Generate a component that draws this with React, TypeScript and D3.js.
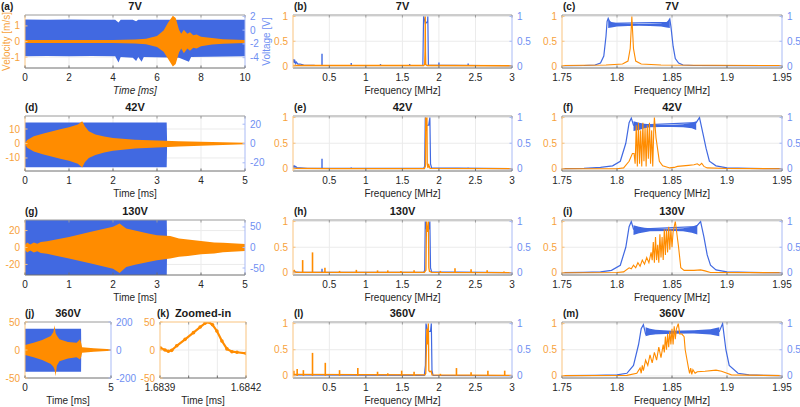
import React from 'react'
import * as d3 from 'd3'

type Env = [number, number, number] // x, low, high
type Pt = [number, number]

const ORANGE = '#FF8C00'
const BLUE = '#4169E1'
const ORANGE_TXT = '#F7A23B'
const BLUE_TXT = '#6F8FF2'
const ORANGE_AX = '#F9C37F'
const BLUE_AX = '#A9BAF5'
const GRID = '#EBEBEB'
const FONT = 'Liberation Sans, Arial, Helvetica, sans-serif'

// ---- ticks ----
const ticksTime10 = [0, 2, 4, 6, 8, 10]
const ticksTime5 = [0, 1, 2, 3, 4, 5]
const ticksTimeJ = [0, 5]
const ticksZoom = [1.6839, 1.684, 1.6841, 1.6842]
const labelsZoom = ['1.6839', '', '', '1.6842']
const ticksFreqWide = [0.5, 1, 1.5, 2, 2.5, 3]
const ticksFreqNarrow = [1.75, 1.8, 1.85, 1.9, 1.95]
const ticksNorm = [0, 0.5, 1]

// ---- (a) 7V time signal ----
const aVel: Env[] = [
  [0, -0.1, 0.1], [4, -0.1, 0.1], [5, -0.13, 0.13], [5.5, -0.18, 0.18], [6.0, -0.35, 0.35],
  [6.3, -0.65, 0.7], [6.5, -1.1, 1.2], [6.72, -1.6, 1.65], [6.85, -1.45, 1.5], [7.0, -0.7, 0.75],
  [7.1, -0.45, 0.5], [7.22, -0.75, 0.75], [7.38, -0.45, 0.5], [7.5, -0.6, 0.6], [7.65, -0.4, 0.4],
  [7.8, -0.45, 0.45], [8.0, -0.3, 0.3], [8.5, -0.2, 0.22], [9, -0.14, 0.15], [10, -0.1, 0.1],
]
const aVolt: Env[] = [
  [0, -3.8, 1.55], [1, -3.75, 1.5], [2, -3.8, 1.55], [3, -3.75, 1.5], [4.1, -3.8, 1.5],
  [4.25, -4.7, 1.1], [4.35, -3.9, 1.5], [4.9, -4.0, 1.5], [5.05, -4.5, 1.3], [5.15, -3.9, 1.5],
  [5.3, -4.6, 1.5], [5.4, -3.9, 1.5], [7.0, -4.0, 1.5], [7.45, -4.6, 1.5], [7.55, -3.9, 1.5],
  [10, -3.8, 1.5],
]

// ---- (d) 42V ----
const dVel: Env[] = [
  [0, -0.3, 0.3], [0.05, -3, 2.5], [0.2, -5.5, 5], [0.4, -7.5, 6.8], [0.6, -9, 8.3],
  [0.8, -10.5, 9.8], [1.0, -12, 11.3], [1.2, -14, 13.2], [1.3, -16.5, 15.3], [1.36, -13, 12],
  [1.45, -10, 8.5], [1.6, -8, 6.3], [1.8, -6.3, 4.8], [2.0, -5, 3.8], [2.5, -3.5, 2.6],
  [3.0, -2.7, 2], [3.5, -2, 1.6], [4, -1.5, 1.2], [4.5, -1, 0.8], [5, -0.6, 0.5],
]
const dVolt: Env[] = [[0, -24.5, 21.8], [3.22, -24.5, 21.8], [3.23, -0.3, 0.3], [5, -0.3, 0.3]]

// ---- (g) 130V ----
const gVel: Env[] = [
  [0, -3, 3], [0.05, -6, 6], [0.12, -3.5, 3.5], [0.2, -6, 6], [0.28, -4.5, 4.5], [0.36, -6.5, 6.5],
  [0.5, -7.5, 7.5], [1.0, -13, 12.5], [1.5, -19, 18.5], [2.0, -25, 24.5], [2.15, -30, 28.5],
  [2.3, -23, 22.5], [2.5, -20.5, 20], [2.8, -17, 16.5], [3.0, -15, 14.5], [3.3, -13, 13.5],
  [3.5, -11, 10.5], [3.7, -10, 9.5], [4.0, -8, 7.8], [4.3, -7, 6], [4.5, -5.5, 5.5], [5, -4, 4],
]
const gVolt: Env[] = [[0, -80, 80], [3.22, -80, 80], [3.23, -0.5, 0.5], [5, -0.5, 0.5]]

// ---- (j) 360V ----
const jVel: Env[] = [
  [0, -9, 9], [0.5, -13, 13], [1, -18, 18], [1.5, -25, 25], [1.65, -30, 32], [1.72, -35, 44],
  [1.78, -47, 30], [1.85, -28, 26], [2, -20, 19], [2.5, -15, 14.5], [3, -13, 13], [3.2, -17, 19],
  [3.27, -12, 12], [3.32, -5, 5], [4, -3, 3], [5, -1.2, 1.2],
]
const jVolt: Env[] = [[0, -155, 152], [3.26, -155, 152], [3.27, -1, 1], [5, -1, 1]]

// ---- (k) zoomed-in ----
const kVel: Pt[] = [
  [1.683902, 3.5], [1.6839175, 0], [1.6839292, -2.3], [1.6839409, -0.6], [1.6839584, 7.5],
  [1.6839875, 19], [1.6840167, 31], [1.6840401, 41], [1.6840576, 48], [1.6840693, 50],
  [1.6840833, 45], [1.6840984, 34], [1.684116, 16], [1.6841335, 2], [1.684151, -3],
  [1.6841685, -4], [1.6842, -6],
]

// ---- (b) 7V spectrum ----
const bOrange: Pt[] = [
  [0.003, 0.01], [1.79, 0.01], [1.805, 0.03], [1.81, 0.3], [1.813, 1.0], [1.816, 0.3],
  [1.82, 0.03], [1.84, 0.01], [3, 0.005],
]
const bBlue: Pt[] = [
  [0.003, 0.13], [0.01, 0.1], [0.015, 0.14], [0.02, 0.06], [0.03, 0.1], [0.04, 0.05],
  [0.05, 0.08], [0.07, 0.04], [0.1, 0.04], [0.15, 0.02], [0.3, 0.012], [1.78, 0.01],
  [1.79, 1.0], [1.8, 0.95], [1.815, 0.85], [1.83, 0.88], [1.845, 0.9], [1.848, 1.0],
  [1.856, 0.02], [3, 0.005],
]
const bBlueSpikes: Pt[] = [[0.4, 0.25], [0.8, 0.06], [1.2, 0.04], [1.6, 0.04], [2.0, 0.07], [2.4, 0.05], [2.8, 0.02]]

// ---- (e) 42V spectrum ----
const eOrange: Pt[] = [
  [0.003, 0.01], [0.5, 0.005], [1.8, 0.006], [1.815, 0.05], [1.82, 1.0], [1.826, 0.75],
  [1.832, 0.95], [1.836, 1.0], [1.84, 0.1], [1.85, 0.02], [1.858, 0.1], [1.866, 0.05],
  [1.88, 0.01], [3, 0.005],
]
const eBlue: Pt[] = [
  [0.003, 0.07], [0.01, 0.04], [0.02, 0.06], [0.03, 0.03], [0.04, 0.05], [0.06, 0.02],
  [0.1, 0.02], [0.2, 0.01], [1.79, 0.01], [1.805, 0.05], [1.813, 1.0], [1.83, 0.85],
  [1.86, 0.85], [1.876, 1.0], [1.885, 0.1], [1.9, 0.02], [3, 0.005],
]
const eBlueSpikes: Pt[] = [[0.4, 0.2], [0.8, 0.03], [2.4, 0.025]]

// ---- (h) 130V spectrum ----
const hOrange: Pt[] = [
  [0.003, 0.03], [0.02, 0.05], [0.04, 0.01], [1.8, 0.01], [1.822, 0.05], [1.83, 1.0],
  [1.84, 0.8], [1.852, 0.9], [1.856, 1.0], [1.862, 0.1], [1.87, 0.03], [1.9, 0.01], [3, 0.005],
]
const hOrangeSpikes: Pt[] = [
  [0.135, 0.25], [0.27, 0.4], [0.44, 0.1], [0.64, 0.04], [0.87, 0.06], [1.16, 0.05], [1.3, 0.05],
  [1.48, 0.04], [1.66, 0.05], [2.02, 0.04], [2.22, 0.09], [2.44, 0.07], [2.66, 0.05], [2.89, 0.03],
]
const hBlue: Pt[] = [
  [0.003, 0.02], [0.1, 0.01], [1.79, 0.01], [1.805, 0.05], [1.813, 1.0], [1.83, 0.85],
  [1.86, 0.85], [1.876, 1.0], [1.885, 0.1], [1.9, 0.02], [3, 0.005],
]
const hBlueSpikes: Pt[] = [[0.4, 0.08]]

// ---- (l) 360V spectrum ----
const lOrange: Pt[] = [
  [0.003, 0.03], [1.81, 0.02], [1.82, 0.05], [1.835, 0.9], [1.845, 0.6], [1.855, 1.0],
  [1.862, 0.1], [1.875, 0.08], [1.895, 0.09], [1.905, 0.02], [3, 0.01],
]
const lOrangeSpikes: Pt[] = [
  [0.015, 0.1], [0.06, 0.13], [0.145, 0.11], [0.27, 0.44], [0.445, 0.25], [0.64, 0.11],
  [0.89, 0.15], [1.16, 0.08], [1.3, 0.05], [1.49, 0.1], [1.66, 0.08], [2.02, 0.04],
  [2.24, 0.15], [2.44, 0.07], [2.67, 0.1], [2.9, 0.1],
]
const lBlue: Pt[] = [
  [0.003, 0.02], [1.8, 0.01], [1.815, 0.2], [1.823, 1.0], [1.845, 0.85], [1.885, 0.85],
  [1.896, 1.0], [1.905, 0.1], [1.92, 0.01], [3, 0.005],
]

// ---- (c) 7V zoomed spectrum ----
const cBlue: Pt[] = [
  [1.75, 0.005], [1.77, 0.01], [1.78, 0.02], [1.785, 0.06], [1.788, 0.2], [1.79, 0.6],
  [1.791, 0.9], [1.792, 0.96], [1.794, 0.86], [1.846, 0.88], [1.848, 0.95], [1.849, 0.8],
  [1.851, 0.4], [1.853, 0.15], [1.856, 0.06], [1.86, 0.02], [1.87, 0.01], [1.95, 0.005],
]
const cBand: Env[] = [
  [1.792, 0.77, 0.93], [1.795, 0.78, 0.89], [1.8, 0.8, 0.865], [1.81, 0.81, 0.855], [1.82, 0.815, 0.85],
  [1.83, 0.81, 0.855], [1.84, 0.8, 0.865], [1.845, 0.78, 0.89], [1.848, 0.77, 0.93],
]
const cOrange: Pt[] = [
  [1.75, 0.01], [1.79, 0.02], [1.805, 0.04], [1.81, 0.1], [1.812, 0.35], [1.8135, 1.0],
  [1.815, 0.35], [1.817, 0.1], [1.822, 0.04], [1.84, 0.02], [1.95, 0.01],
]

// ---- (f) 42V zoomed spectrum ----
const fBlue: Pt[] = [
  [1.75, 0.005], [1.77, 0.01], [1.785, 0.03], [1.796, 0.06], [1.803, 0.15], [1.808, 0.5],
  [1.811, 0.9], [1.813, 0.99], [1.815, 0.85], [1.872, 0.9], [1.875, 1.0], [1.878, 0.7],
  [1.881, 0.4], [1.884, 0.15], [1.89, 0.06], [1.9, 0.02], [1.92, 0.01], [1.95, 0.005],
]
const fBand: Env[] = [
  [1.815, 0.74, 0.93], [1.82, 0.76, 0.9], [1.825, 0.79, 0.88], [1.83, 0.81, 0.87], [1.84, 0.815, 0.86],
  [1.85, 0.815, 0.86], [1.86, 0.81, 0.87], [1.868, 0.79, 0.9], [1.872, 0.76, 0.93],
]
const fOrange: Pt[] = [
  [1.75, 0.005], [1.8, 0.005], [1.806, 0.02], [1.811, 0.15], [1.814, 0.3], [1.8155, 0.3],
  [1.8165, 0.1], [1.8175, 0.85], [1.8185, 0.05], [1.8195, 0.9], [1.8205, 0.1], [1.8215, 0.75],
  [1.8225, 0.05], [1.8235, 0.9], [1.8245, 0.15], [1.8255, 0.8], [1.8265, 0.05], [1.8275, 0.85],
  [1.8285, 0.2], [1.8295, 0.9], [1.8305, 0.1], [1.8315, 0.75], [1.8325, 0.05], [1.8335, 0.8],
  [1.834, 1.0], [1.8355, 0.6], [1.8385, 0.15], [1.8415, 0.06], [1.848, 0.02], [1.852, 0.03],
  [1.855, 0.05], [1.86, 0.06], [1.865, 0.07], [1.87, 0.08], [1.873, 0.1], [1.875, 0.07],
  [1.877, 0.11], [1.879, 0.05], [1.882, 0.02], [1.9, 0.01], [1.95, 0.005],
]

// ---- (i) 130V zoomed spectrum ----
const iBlue: Pt[] = [
  [1.75, 0.005], [1.77, 0.01], [1.785, 0.02], [1.795, 0.05], [1.803, 0.15], [1.808, 0.5],
  [1.811, 0.9], [1.813, 1.0], [1.815, 0.85], [1.872, 0.9], [1.876, 1.0], [1.879, 0.7],
  [1.882, 0.35], [1.885, 0.15], [1.89, 0.06], [1.9, 0.02], [1.92, 0.01], [1.95, 0.005],
]
const iBand: Env[] = [
  [1.815, 0.74, 0.93], [1.82, 0.77, 0.9], [1.825, 0.79, 0.88], [1.83, 0.81, 0.87], [1.85, 0.815, 0.86],
  [1.86, 0.81, 0.87], [1.868, 0.78, 0.9], [1.873, 0.75, 0.94],
]
const iOrange: Pt[] = [
  [1.75, 0.005], [1.8, 0.008], [1.806, 0.02], [1.811, 0.1], [1.813, 0.08], [1.815, 0.15],
  [1.817, 0.1], [1.819, 0.2], [1.821, 0.13], [1.823, 0.25], [1.825, 0.17], [1.827, 0.3],
  [1.829, 0.2], [1.831, 0.4], [1.832, 0.25], [1.833, 0.6], [1.834, 0.2], [1.835, 0.7],
  [1.836, 0.25], [1.837, 0.55], [1.838, 0.2], [1.839, 0.75], [1.84, 0.3], [1.841, 0.7],
  [1.842, 0.25], [1.843, 0.85], [1.844, 0.35], [1.845, 0.85], [1.846, 0.4], [1.847, 0.9],
  [1.848, 0.45], [1.849, 0.85], [1.85, 0.5], [1.851, 0.8], [1.853, 1.0], [1.856, 0.5],
  [1.858, 0.1], [1.861, 0.05], [1.87, 0.05], [1.876, 0.06], [1.88, 0.04], [1.885, 0.01],
  [1.95, 0.005],
]

// ---- (m) 360V zoomed spectrum ----
const mBlue: Pt[] = [
  [1.75, 0.005], [1.78, 0.01], [1.8, 0.02], [1.809, 0.05], [1.815, 0.2], [1.8196, 0.6],
  [1.822, 0.9], [1.824, 0.98], [1.826, 0.8], [1.893, 0.85], [1.896, 1.0], [1.899, 0.5],
  [1.902, 0.2], [1.91, 0.05], [1.92, 0.02], [1.934, 0.01], [1.95, 0.005],
]
const mBand: Env[] = [
  [1.826, 0.76, 0.93], [1.83, 0.78, 0.9], [1.835, 0.8, 0.88], [1.85, 0.815, 0.865],
  [1.87, 0.81, 0.87], [1.885, 0.79, 0.89], [1.893, 0.76, 0.93],
]
const mOrange: Pt[] = [
  [1.75, 0.005], [1.8, 0.008], [1.809, 0.01], [1.818, 0.05], [1.821, 0.15], [1.822, 0.05],
  [1.823, 0.2], [1.824, 0.1], [1.826, 0.3], [1.828, 0.2], [1.83, 0.4], [1.832, 0.25],
  [1.834, 0.45], [1.836, 0.3], [1.838, 0.55], [1.84, 0.35], [1.842, 0.6], [1.843, 0.45],
  [1.844, 0.75], [1.845, 0.5], [1.846, 0.8], [1.847, 0.55], [1.848, 0.85], [1.849, 0.6],
  [1.85, 0.9], [1.851, 0.6], [1.852, 0.95], [1.853, 0.7], [1.854, 0.9], [1.8557, 1.0],
  [1.857, 0.8], [1.859, 0.8], [1.861, 0.75], [1.862, 0.5], [1.865, 0.15], [1.866, 0.05],
  [1.867, 0.15], [1.868, 0.03], [1.869, 0.12], [1.871, 0.05], [1.873, 0.08], [1.88, 0.09],
  [1.89, 0.11], [1.895, 0.09], [1.9, 0.05], [1.904, 0.02], [1.95, 0.005],
]

// ---- layout ----
type Box = { l: number; r: number; t: number; b: number }
const COL1 = [25, 245]
const COL2 = [293, 512]
const COL3 = [562, 782]
const ROWS = [[15, 68], [116, 171], [220, 275], [322, 378]]
const box = (c: number[], r: number[]): Box => ({ l: c[0], r: c[1], t: r[0], b: r[1] })

type Scale = d3.ScaleLinear<number, number>
interface PanelProps {
  id: string
  box: Box
  xDomain: [number, number]
  xTicks: number[]
  xLabels?: string[]
  yLeft: [number, number]
  leftTicks: number[]
  yRight?: [number, number]
  rightTicks?: number[]
  title: string
  tag: string
  tagX?: number
  xLabel: string
  italicX?: boolean
  allOrange?: boolean
  yLabelLeft?: string
  yLabelRight?: string
  draw: (x: Scale, yl: Scale, yr: Scale) => React.ReactNode
}

const envArea = (x: Scale, y: Scale) =>
  d3.area<Env>().x(d => x(d[0])).y0(d => y(d[1])).y1(d => y(d[2]))
const ptLine = (x: Scale, y: Scale) => d3.line<Pt>().x(d => x(d[0])).y(d => y(d[1]))

function Panel(p: PanelProps) {
  const { l, r, t, b } = p.box
  const x = d3.scaleLinear().domain(p.xDomain).range([l, r])
  const yl = d3.scaleLinear().domain(p.yLeft).range([b, t])
  const yr = p.yRight ? d3.scaleLinear().domain(p.yRight).range([b, t]) : yl
  const clip = 'clip-' + p.id
  const rightAx = p.allOrange ? ORANGE_AX : BLUE_AX
  const inner = (v: number, s: Scale) => Math.abs(s(v) - s.range()[0]) > 1 && Math.abs(s(v) - s.range()[1]) > 1
  return (
    <g fontFamily={FONT}>
      <defs>
        <clipPath id={clip}><rect x={l} y={t} width={r - l} height={b - t} /></clipPath>
      </defs>
      {p.xTicks.filter(v => inner(v, x)).map(v => (
        <line key={'gx' + v} x1={x(v)} x2={x(v)} y1={t} y2={b} stroke={GRID} strokeWidth={1} />
      ))}
      {p.leftTicks.filter(v => inner(v, yl)).map(v => (
        <line key={'gy' + v} x1={l} x2={r} y1={yl(v)} y2={yl(v)} stroke={GRID} strokeWidth={1} />
      ))}
      <g clipPath={`url(#${clip})`}>{p.draw(x, yl, yr)}</g>
      {/* frame */}
      <line x1={l} x2={r} y1={t} y2={t} stroke={p.allOrange ? ORANGE_AX : '#9a9a9a'} />
      <line x1={l} x2={r} y1={b} y2={b} stroke="#6e6e6e" />
      <line x1={l} x2={l} y1={t} y2={b} stroke={ORANGE_AX} />
      <line x1={r} x2={r} y1={t} y2={b} stroke={rightAx} />
      {/* x ticks */}
      {p.xTicks.map((v, i) => (
        <g key={'xt' + v}>
          <line x1={x(v)} x2={x(v)} y1={b} y2={b - 2.5} stroke="#6e6e6e" />
          <line x1={x(v)} x2={x(v)} y1={t} y2={t + 2.5} stroke="#9a9a9a" />
          <text x={x(v)} y={b + 12.5} fontSize={10} fill="#262626" textAnchor="middle">
            {p.xLabels ? p.xLabels[i] : String(v)}
          </text>
        </g>
      ))}
      {/* left ticks */}
      {p.leftTicks.map(v => (
        <g key={'lt' + v}>
          <line x1={l} x2={l + 2.5} y1={yl(v)} y2={yl(v)} stroke={ORANGE_AX} />
          <text x={l - 5} y={yl(v)} dy="0.35em" fontSize={10} fill={ORANGE_TXT} textAnchor="end">{String(v)}</text>
        </g>
      ))}
      {/* right ticks */}
      {p.rightTicks && p.rightTicks.map(v => (
        <g key={'rt' + v}>
          <line x1={r} x2={r - 2.5} y1={yr(v)} y2={yr(v)} stroke={BLUE_AX} />
          <text x={r + 5} y={yr(v)} dy="0.35em" fontSize={10} fill={BLUE_TXT} textAnchor="start">{String(v)}</text>
        </g>
      ))}
      <text x={(l + r) / 2} y={t - 5} fontSize={11} fontWeight="bold" fill="#1a1a1a" textAnchor="middle">{p.title}</text>
      <text x={p.tagX ?? l} y={t - 5} fontSize={10} fontWeight="bold" fill="#1a1a1a">{p.tag}</text>
      <text x={(l + r) / 2} y={b + 25.5} fontSize={10} fill="#262626" textAnchor="middle"
        fontStyle={p.italicX ? 'italic' : 'normal'}>{p.xLabel}</text>
      {p.yLabelLeft && (
        <text transform={`translate(${l - 15},${(t + b) / 2}) rotate(-90)`} fontSize={10} fill={ORANGE_TXT} textAnchor="middle">{p.yLabelLeft}</text>
      )}
      {p.yLabelRight && (
        <text transform={`translate(${r + 25},${(t + b) / 2}) rotate(-90)`} fontSize={10} fill={BLUE_TXT} textAnchor="middle">{p.yLabelRight}</text>
      )}
    </g>
  )
}

const timeDraw = (vel: Env[], volt: Env[]) => (x: Scale, yl: Scale, yr: Scale) => (
  <>
    <path d={envArea(x, yr)(volt) ?? ''} fill={BLUE} />
    <path d={envArea(x, yl)(vel) ?? ''} fill={ORANGE} />
  </>
)

const wideDraw = (orange: Pt[], blue: Pt[], oSpikes: Pt[], bSpikes: Pt[]) => (x: Scale, yl: Scale, yr: Scale) => (
  <>
    <path d={ptLine(x, yr)(blue) ?? ''} fill="none" stroke={BLUE} strokeWidth={1.2} />
    {bSpikes.map(([f, h]) => (
      <line key={'bs' + f} x1={x(f)} x2={x(f)} y1={yr(0)} y2={yr(h)} stroke={BLUE} strokeWidth={1.4} />
    ))}
    <path d={ptLine(x, yl)(orange) ?? ''} fill="none" stroke={ORANGE} strokeWidth={1.3} />
    {oSpikes.map(([f, h]) => (
      <line key={'os' + f} x1={x(f)} x2={x(f)} y1={yl(0)} y2={yl(h)} stroke={ORANGE} strokeWidth={1.6} />
    ))}
  </>
)

const narrowDraw = (orange: Pt[], blue: Pt[], band: Env[]) => (x: Scale, yl: Scale, yr: Scale) => (
  <>
    <path d={envArea(x, yr)(band) ?? ''} fill={BLUE} />
    <path d={ptLine(x, yr)(blue) ?? ''} fill="none" stroke={BLUE} strokeWidth={1.2} />
    <path d={ptLine(x, yl)(orange) ?? ''} fill="none" stroke={ORANGE} strokeWidth={1.1} />
  </>
)

const zoomDraw = (x: Scale, yl: Scale) => (
  <>
    <path d={ptLine(x, yl)(kVel) ?? ''} fill="none" stroke={ORANGE} strokeWidth={2.2} />
    {kVel.map(([t, v]) => <circle key={t} cx={x(t)} cy={yl(v)} r={1.8} fill={ORANGE} />)}
  </>
)

const normDomain: [number, number] = [-0.04, 1.03]

export default function App() {
  const wide = (id: string, row: number, title: string, tag: string, draw: PanelProps['draw']) => (
    <Panel id={id} box={box(COL2, ROWS[row])} xDomain={[0.003, 3]} xTicks={ticksFreqWide}
      yLeft={normDomain} leftTicks={ticksNorm} yRight={normDomain} rightTicks={ticksNorm}
      title={title} tag={tag} tagX={294} xLabel="Frequency [MHz]" draw={draw} />
  )
  const narrow = (id: string, row: number, title: string, tag: string, draw: PanelProps['draw']) => (
    <Panel id={id} box={box(COL3, ROWS[row])} xDomain={[1.75, 1.95]} xTicks={ticksFreqNarrow}
      yLeft={normDomain} leftTicks={ticksNorm} yRight={normDomain} rightTicks={ticksNorm}
      title={title} tag={tag} tagX={563} xLabel="Frequency [MHz]" draw={draw} />
  )
  return (
    <svg width={800} height={407} style={{ position: 'absolute', left: 0, top: 0, background: '#fff' }}>
      <rect width={800} height={407} fill="#fff" />
      <Panel id="a" box={box(COL1, ROWS[0])} xDomain={[0, 10]} xTicks={ticksTime10}
        yLeft={[-1.7, 1.7]} leftTicks={[-1, 0, 1]} yRight={[-5.5, 2.2]} rightTicks={[-4, -2, 0, 2]}
        title="7V" tag="(a)" tagX={1} xLabel="Time [ms]" italicX
        yLabelLeft="Velocity [m/s]" yLabelRight="Voltage [V]" draw={timeDraw(aVel, aVolt)} />
      <Panel id="d" box={box(COL1, ROWS[1])} xDomain={[0, 5]} xTicks={ticksTime5}
        yLeft={[-19, 19]} leftTicks={[-10, 0, 10]} yRight={[-28.5, 28.5]} rightTicks={[-20, 0, 20]}
        title="42V" tag="(d)" xLabel="Time [ms]" draw={timeDraw(dVel, dVolt)} />
      <Panel id="g" box={box(COL1, ROWS[2])} xDomain={[0, 5]} xTicks={ticksTime5}
        yLeft={[-32.5, 32.5]} leftTicks={[-20, 0, 20]} yRight={[-67, 67]} rightTicks={[-50, 0, 50]}
        title="130V" tag="(g)" xLabel="Time [ms]" draw={timeDraw(gVel, gVolt)} />
      <Panel id="j" box={{ l: 25, r: 111, t: ROWS[3][0], b: ROWS[3][1] }} xDomain={[0, 5]} xTicks={ticksTimeJ}
        yLeft={[-50, 50]} leftTicks={[-50, 0, 50]} yRight={[-200, 200]} rightTicks={[-200, 0, 200]}
        title="360V" tag="(j)" xLabel="Time [ms]" draw={timeDraw(jVel, jVolt)} />
      <Panel id="k" box={{ l: 160, r: 246, t: ROWS[3][0], b: ROWS[3][1] }} xDomain={[1.6839, 1.6842]}
        xTicks={ticksZoom} xLabels={labelsZoom} yLeft={[-50, 50]} leftTicks={[-50, 0, 50]} allOrange
        title="Zoomed-in" tag="(k)" tagX={157} xLabel="Time [ms]" draw={zoomDraw} />

      {wide('b', 0, '7V', '(b)', wideDraw(bOrange, bBlue, [], bBlueSpikes))}
      {wide('e', 1, '42V', '(e)', wideDraw(eOrange, eBlue, [], eBlueSpikes))}
      {wide('h', 2, '130V', '(h)', wideDraw(hOrange, hBlue, hOrangeSpikes, hBlueSpikes))}
      {wide('l', 3, '360V', '(l)', wideDraw(lOrange, lBlue, lOrangeSpikes, []))}

      {narrow('c', 0, '7V', '(c)', narrowDraw(cOrange, cBlue, cBand))}
      {narrow('f', 1, '42V', '(f)', narrowDraw(fOrange, fBlue, fBand))}
      {narrow('i', 2, '130V', '(i)', narrowDraw(iOrange, iBlue, iBand))}
      {narrow('m', 3, '360V', '(m)', narrowDraw(mOrange, mBlue, mBand))}
    </svg>
  )
}
